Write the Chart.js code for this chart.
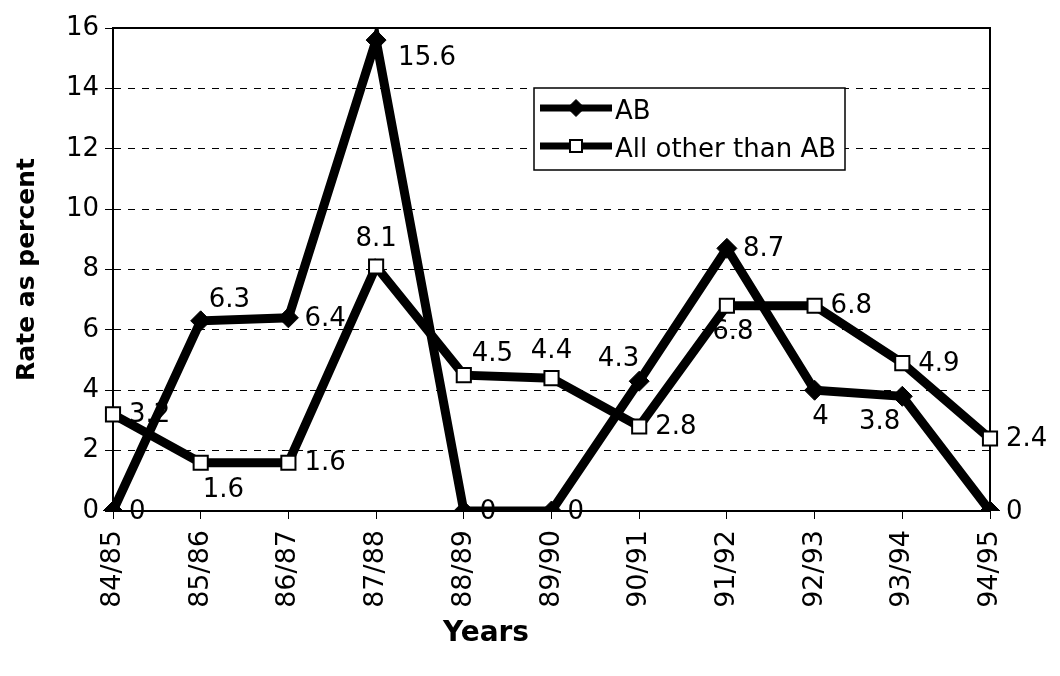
<!DOCTYPE html>
<html lang="en">
<head>
  <meta charset="UTF-8" />
  <title>Rate as percent: AB vs all other than AB</title>
  <script src="https://cdn.jsdelivr.net/npm/chart.js"></script>
  <style>
    body { margin: 0; background: #fff; }
    #chart-container { width: 1060px; height: 676px; position: relative; }
  </style>
</head>
<body>
  <div id="chart-container">
    <canvas id="rateChart"></canvas>
  </div>

  <script>
    // Data
    const years = ["84/85", "85/86", "86/87", "87/88", "88/89", "89/90", "90/91", "91/92", "92/93", "93/94", "94/95"];
    const abRates = [0, 6.3, 6.4, 15.6, 0, 0, 4.3, 8.7, 4, 3.8, 0];
    const otherRates = [3.2, 1.6, 1.6, 8.1, 4.5, 4.4, 2.8, 6.8, 6.8, 4.9, 2.4];
    const seriesNames = ["AB", "All other than AB"];

    // where each value label sits around its point
    const abLabelPos = ["r", "ar", "r", "rb", "r", "r", "al", "r", "b", "bl", "r"];
    const otherLabelPos = ["r", "br", "r", "a", "ar", "a", "r", "b", "r", "r", "r"];

    const FONT = "DejaVu Sans";

    const anchors = {
      r:  { align: "left",   dx: 16, dy: 1 },
      l:  { align: "right",  dx: -18, dy: 2 },
      a:  { align: "center", dx: 0, dy: -27 },
      b:  { align: "center", dx: 6, dy: 27 },
      ar: { align: "left",   dx: 8, dy: -21 },
      al: { align: "right",  dx: 0, dy: -22 },
      rb: { align: "left",   dx: 22, dy: 18 },
      br: { align: "left",   dx: 2, dy: 28 },
      bl: { align: "right",  dx: -2, dy: 26 }
    };

    // value labels next to the points
    const valueLabels = {
      id: "valueLabels",
      afterDatasetsDraw(chart) {
        const ctx = chart.ctx;
        ctx.save();
        ctx.font = "26px '" + FONT + "'";
        ctx.fillStyle = "#000";
        ctx.textBaseline = "middle";
        chart.data.datasets.forEach((ds, i) => {
          const meta = chart.getDatasetMeta(i);
          meta.data.forEach((pt, j) => {
            const a = anchors[ds.labelPos[j]];
            ctx.textAlign = a.align;
            ctx.fillText(String(ds.data[j]), pt.x + a.dx, pt.y + a.dy);
          });
        });
        ctx.restore();
      }
    };

    // box round the plot, legend inside it, x title
    const frameAndLegend = {
      id: "frameAndLegend",
      beforeDatasetsDraw(chart) {
        const { ctx, chartArea: ca } = chart;
        ctx.save();
        ctx.strokeStyle = "#000";
        ctx.lineWidth = 2;
        ctx.strokeRect(ca.left, ca.top, ca.right - ca.left, ca.bottom - ca.top);
        ctx.restore();
      },
      afterDraw(chart, args, opts) {
        const { ctx } = chart;
        const box = opts.box;
        ctx.save();
        ctx.fillStyle = "#fff";
        ctx.fillRect(box.x, box.y, box.w, box.h);
        ctx.strokeStyle = "#000";
        ctx.lineWidth = 1.5;
        ctx.strokeRect(box.x, box.y, box.w, box.h);

        chart.data.datasets.forEach((ds, i) => {
          const y = box.y + 20 + i * 38;
          const x0 = box.x + 6, x1 = box.x + 78;
          ctx.strokeStyle = "#000";
          ctx.lineWidth = 7;
          ctx.beginPath();
          ctx.moveTo(x0, y);
          ctx.lineTo(x1, y);
          ctx.stroke();
          ctx.fillStyle = ds.pointBackgroundColor;
          ctx.strokeStyle = ds.pointBorderColor;
          ctx.lineWidth = ds.pointBorderWidth;
          Chart.helpers.drawPoint(ctx, {
            pointStyle: ds.pointStyle,
            radius: ds.pointRadius * 0.85,
            rotation: 0,
            borderWidth: ds.pointBorderWidth
          }, (x0 + x1) / 2, y);
          ctx.fillStyle = "#000";
          ctx.font = "26px '" + FONT + "'";
          ctx.textAlign = "left";
          ctx.textBaseline = "middle";
          ctx.fillText(ds.label, x1 + 3, y + 4);
        });

        ctx.font = "bold 28px '" + FONT + "'";
        ctx.fillStyle = "#000";
        ctx.textAlign = "center";
        ctx.textBaseline = "middle";
        ctx.fillText(opts.xTitle, opts.xTitleX, opts.xTitleY);
        ctx.restore();
      }
    };

    const ctx = document.getElementById("rateChart").getContext("2d");
    new Chart(ctx, {
      type: "line",
      data: {
        labels: years,
        datasets: [
          {
            label: seriesNames[0],
            data: abRates,
            labelPos: abLabelPos,
            borderColor: "#000",
            borderWidth: 9,
            tension: 0,
            pointStyle: "rectRot",
            pointRadius: 10,
            pointBackgroundColor: "#000",
            pointBorderColor: "#000",
            pointBorderWidth: 1
          },
          {
            label: seriesNames[1],
            data: otherRates,
            labelPos: otherLabelPos,
            borderColor: "#000",
            borderWidth: 9,
            tension: 0,
            pointStyle: "rect",
            pointRadius: 10,
            pointBackgroundColor: "#fff",
            pointBorderColor: "#000",
            pointBorderWidth: 2
          }
        ]
      },
      options: {
        responsive: true,
        maintainAspectRatio: false,
        animation: false,
        layout: { padding: { top: 28, right: 70, left: 0, bottom: 0 } },
        scales: {
          x: {
            offset: false,
            grid: { drawOnChartArea: false, drawTicks: true, tickLength: 8, color: "#000", lineWidth: 1 },
            border: { display: true, color: "#000", width: 2 },
            ticks: {
              color: "#000",
              font: { family: FONT, size: 27 },
              minRotation: 90,
              maxRotation: 90,
              padding: 11,
              autoSkip: false
            },
            afterFit: (s) => { s.height = 165; }
          },
          y: {
            min: 0,
            max: 16,
            grid: { color: "#000", lineWidth: 1, tickLength: 8, tickBorderDash: [] },
            border: { display: true, color: "#000", width: 2, dash: [7, 7] },
            ticks: {
              stepSize: 2,
              color: "#000",
              font: { family: FONT, size: 26 },
              padding: 6
            },
            title: {
              display: true,
              text: "Rate as percent",
              color: "#000",
              font: { family: FONT, size: 25, weight: "bold" },
              padding: { top: 12, bottom: 0 }
            },
            afterFit: (s) => { s.width = 113; }
          }
        },
        plugins: {
          legend: { display: false },
          tooltip: { enabled: false },
          frameAndLegend: {
            box: { x: 534, y: 88, w: 311, h: 82 },
            xTitle: "Years",
            xTitleX: 486,
            xTitleY: 634
          }
        }
      },
      plugins: [frameAndLegend, valueLabels]
    });
  </script>
</body>
</html>
